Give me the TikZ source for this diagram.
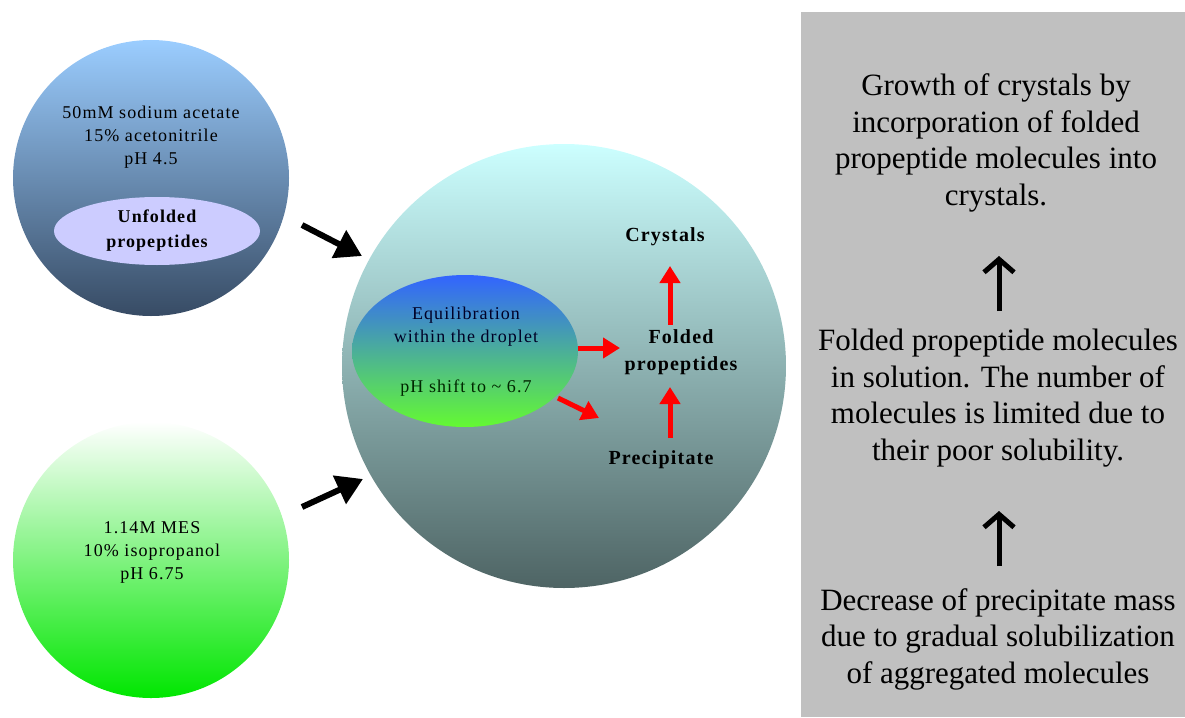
\documentclass[tikz,border=0pt]{standalone}
\usepackage{fontspec}
\setmainfont{Liberation Serif}
\newfontfamily\airy[LetterSpace=6]{Liberation Serif}
\usetikzlibrary{arrows.meta,shapes.geometric}

\definecolor{skytop}{RGB}{155,205,255}
\definecolor{skymid}{RGB}{105,145,190}
\definecolor{skybot}{RGB}{55,75,100}
\definecolor{leafmid}{RGB}{150,245,150}
\definecolor{leafbot}{RGB}{0,230,0}
\definecolor{droptop}{RGB}{204,255,255}
\definecolor{dropmid}{RGB}{160,205,205}
\definecolor{dropbot}{RGB}{78,100,100}
\definecolor{eqtop}{RGB}{50,100,255}
\definecolor{eqmid}{RGB}{50,190,180}
\definecolor{eqbot}{RGB}{100,250,50}
\definecolor{lavender}{RGB}{204,204,255}
\definecolor{panelgray}{RGB}{192,192,192}
\definecolor{arrowred}{RGB}{255,0,0}

\begin{document}
\begin{tikzpicture}[x=1pt,y=-1pt,
  flask/.style={circle, minimum size=276pt, inner sep=0pt, draw=none},
  small/.style={font=\airy\fontsize{18}{23}\selectfont, align=center, inner sep=0pt},
  tag/.style={font=\airy\bfseries\fontsize{20}{27}\selectfont, align=center, inner sep=0pt},
  panel/.style={font=\fontsize{31}{36.5}\selectfont, align=center, inner sep=0pt},
  feed/.style={line width=6pt, -{Triangle[length=26pt,width=30pt]}},
  redarrow/.style={arrowred, line width=5pt, -{Triangle[length=17pt,width=20pt]}},
  uparrow/.style={line width=5pt, -{Straight Barb[length=13pt,width=30pt]}}
]
\useasboundingbox (0,0) rectangle (1185,717);

% reservoir solution with the unfolded propeptides
\node[flask, top color=skytop, middle color=skymid, bottom color=skybot] (src1) at (151,178) {};
\node[small] (buf1) at (151,137) {50mM sodium acetate\\15\% acetonitrile\\pH 4.5};
\node[ellipse, fill=lavender, minimum width=206pt, minimum height=68pt, tag,
      font=\airy\bfseries\fontsize{18}{25}\selectfont] (unf) at (157,231) {Unfolded\\propeptides};

% MES buffer
\node[flask, top color=white, middle color=leafmid, bottom color=leafbot] (src2) at (151,560) {};
\node[small] (buf2) at (152,552) {1.14M MES\\10\% isopropanol\\pH 6.75};

% the droplet
\node[circle, minimum size=444pt, inner sep=0pt, top color=droptop, middle color=dropmid, bottom color=dropbot] (drop) at (564,366) {};
\node[ellipse, minimum width=226pt, minimum height=152pt, top color=eqtop, middle color=eqmid, bottom color=eqbot] (eq) at (465,351) {};
\node[small, text=black!85!blue] (eqtxt) at (466,327) {Equilibration\\within the droplet};
\node[small, text=black!85!green] (ph) at (466,388) {pH shift to \textasciitilde\ 6.7};

\node[tag] (cry) at (665,237) {Crystals};
\node[tag] (fold) at (681,352) {Folded\\propeptides};
\node[tag] (prec) at (661,460) {Precipitate};

% feeding arrows
\coordinate (f1a) at (302,225);
\coordinate (f1b) at (362,256);
\coordinate (f2a) at (302,507);
\coordinate (f2b) at (363,479);
\draw[feed] (f1a) -- (f1b);
\draw[feed] (f2a) -- (f2b);

% reactions in the droplet
\coordinate (r1a) at (578,348);
\coordinate (r1b) at (620,348);
\coordinate (r2a) at (558,398);
\coordinate (r2b) at (599,418);
\coordinate (r3a) at (670,325);
\coordinate (r3b) at (670,266);
\coordinate (r4a) at (670,438);
\coordinate (r4b) at (670,387);
\draw[redarrow] (r1a) -- (r1b);
\draw[redarrow] (r2a) -- (r2b);
\draw[redarrow] (r3a) -- (r3b);
\draw[redarrow] (r4a) -- (r4b);

% explanation panel
\node[fill=panelgray, minimum width=384pt, minimum height=705pt, anchor=north west, inner sep=0pt] (box) at (801,12) {};
\node[panel] (t1) at (996,143) {Growth of crystals by\\incorporation of folded\\propeptide molecules into\\crystals.};
\node[panel] (t2) at (998,398) {Folded propeptide molecules\\in solution. The number of\\molecules is limited due to\\their poor solubility.};
\node[panel] (t3) at (998,639) {Decrease of precipitate mass\\due to gradual solubilization\\of aggregated molecules};
\coordinate (u1a) at (999,311);
\coordinate (u1b) at (999,256);
\coordinate (u2a) at (999,566);
\coordinate (u2b) at (999,511);
\draw[uparrow] (u1a) -- (u1b);
\draw[uparrow] (u2a) -- (u2b);
\end{tikzpicture}
\end{document}
